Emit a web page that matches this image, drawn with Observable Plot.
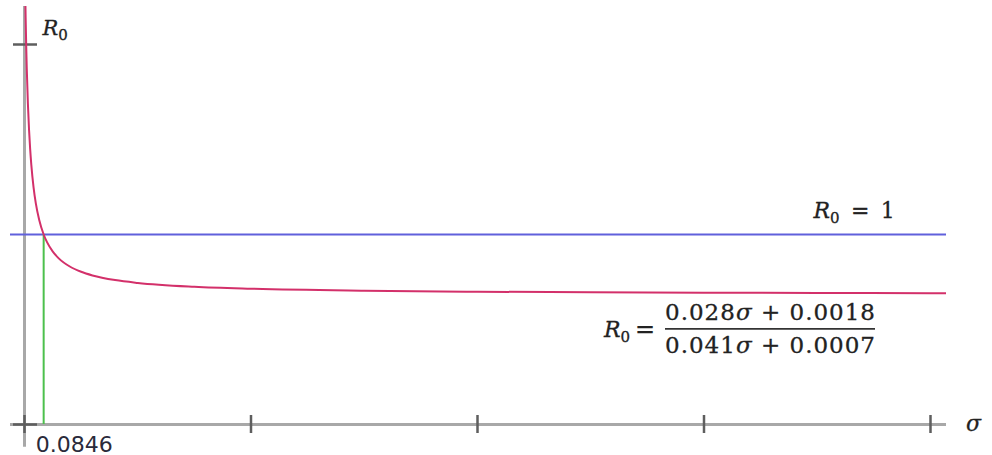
<!DOCTYPE html>
<html>
<head>
<meta charset="utf-8">
<script src="https://cdn.jsdelivr.net/npm/d3@7"></script>
<script src="https://cdn.jsdelivr.net/npm/@observablehq/plot@0.6"></script>
<style>
  html, body { margin: 0; padding: 0; background: #fff; }
  #chart svg { display: block; }
</style>
</head>
<body>
<div id="chart"></div>
<script>
// Curve R0(σ)
const sigma = [0, 0.0025, 0.005, 0.0075, 0.01, 0.015, 0.02, 0.025, 0.03, 0.04, 0.05, 0.065, 0.0846, 0.1, 0.125, 0.15, 0.2, 0.25, 0.3, 0.4, 0.5, 0.75, 1, 1.5, 2, 2.5, 3, 3.5, 4, 4.07];
const r0 = [2.5714, 2.3302, 2.1436, 1.9950, 1.8739, 1.6882, 1.5526, 1.4493, 1.3679, 1.2479, 1.1636, 1.0758, 1.0000, 0.9583, 0.9099, 0.8759, 0.8315, 0.8037, 0.7846, 0.7602, 0.7453, 0.7250, 0.7146, 0.7042, 0.6989, 0.6957, 0.6936, 0.6921, 0.6910, 0.6908];
const threshold = [1];
const crossing = [0.0846];
const xTicks = [0, 1, 2, 3, 4];
const yTicks = [0, 2];
const crossingLabel = ["0.0846"];
const numerator = "0.028σ + 0.0018";
const denominator = "0.041σ + 0.0007";

const curve = sigma.map((s, i) => ({sigma: s, r0: r0[i]}));

const axisColor = "#a8a8a8";
const tickColor = "#5e5e5e";

const chart = Plot.plot({
  width: 992,
  height: 455,
  marginLeft: 10,
  marginRight: 46,
  marginTop: 6,
  marginBottom: 31,
  style: {background: "#fff", overflow: "visible"},
  x: {domain: [0, 4], range: [24, 930], axis: null},
  y: {domain: [0, 2], range: [424, 44], axis: null},
  marks: [
    // axes lines
    Plot.ruleY([0], {stroke: axisColor, strokeWidth: 3}),
    Plot.ruleX([0], {y1: -0.12, y2: 2.2, stroke: axisColor, strokeWidth: 3}),
    // ticks
    Plot.axisX({ticks: xTicks, tickSize: 18, dy: -9, tickFormat: () => "", label: null, stroke: tickColor, strokeWidth: 2.5}),
    Plot.axisY({ticks: yTicks, tickSize: 24, dx: 27, tickFormat: () => "", label: null, stroke: tickColor, strokeWidth: 2.5}),
    // threshold R0 = 1
    Plot.ruleY(threshold, {stroke: "#6060dc", strokeWidth: 2}),
    // vertical at crossing
    Plot.ruleX(crossing, {y1: 0, y2: 1, stroke: "#4cc04c", strokeWidth: 2}),
    // curve
    Plot.line(curve, {x: "sigma", y: "r0", stroke: "#d3306a", strokeWidth: 2, curve: "monotone-x", clip: true}),
    // crossing label
    Plot.text(crossingLabel, {x: crossing, y: 0, text: d => d, dy: 20, dx: -8, textAnchor: "start", fontSize: 22, fontFamily: "DejaVu Sans", fill: "#2a2a3a"}),
    // axis names
    Plot.text(["σ"], {x: 4, y: 0, text: d => d, dx: 43, dy: -1, fontSize: 22, fontStyle: "italic", fontFamily: "DejaVu Serif", fill: "#222", stroke: "#222", strokeWidth: 0.3}),
    Plot.text(["R0"], {x: 0, y: 2, text: d => d, dx: 18, dy: -16, textAnchor: "start", fontSize: 21, fontFamily: "DejaVu Serif", fill: "#222", stroke: "#222", strokeWidth: 0.3, className: "r0-label"}),
    Plot.text(["R0 = 1"], {x: 4, y: 1, text: d => d, dx: -117, dy: -24, textAnchor: "start", fontSize: 22, fontFamily: "DejaVu Serif", fill: "#222", stroke: "#222", strokeWidth: 0.3, className: "r0-label"})
  ]
});

document.getElementById("chart").appendChild(chart);

// Style R0 labels: italic R with upright subscript 0
d3.select(chart).selectAll(".r0-label text").each(function() {
  const t = d3.select(this);
  const s = t.text();
  t.text("");
  t.append("tspan").attr("font-style", "italic").text("R");
  t.append("tspan").attr("font-size", "15").attr("dy", "5").text("0");
  const rest = s.slice(2);
  if (rest) t.append("tspan").attr("dy", "-5").text(rest.replace("=", "\u2009=\u2009"));
});

// Formula label as a fraction, placed with the chart's scales
const svg = d3.select(chart);
const xs = d3.scaleLinear().domain([0, 4]).range([24, 930]);
const ys = d3.scaleLinear().domain([0, 2]).range([424, 44]);
const fx = xs(4), fy = ys(0.69);
const g = svg.append("g").attr("font-family", "DejaVu Serif").attr("font-size", 23).attr("fill", "#222").attr("stroke", "#222").attr("stroke-width", 0.3);
const numX = fx - 265, barY = fy + 36, fracW = 210;
const lhs = g.append("text").attr("x", numX - 10).attr("y", barY + 8).attr("text-anchor", "end");
lhs.append("tspan").attr("font-style", "italic").attr("font-size", 22).text("R");
lhs.append("tspan").attr("font-size", 15).attr("dy", 5).text("0");
lhs.append("tspan").attr("dy", -5).attr("font-size", 24).text("\u2009=");
function frac(str, y) {
  const t = g.append("text").attr("x", numX).attr("y", y).attr("text-anchor", "start")
    .attr("textLength", fracW).attr("lengthAdjust", "spacing");
  const parts = str.split("σ");
  t.append("tspan").text(parts[0]);
  t.append("tspan").attr("font-style", "italic").text("σ");
  t.append("tspan").text(parts[1]);
}
frac(numerator, barY - 9);
frac(denominator, barY + 24);
g.append("line").attr("x1", numX).attr("x2", numX + fracW).attr("y1", barY).attr("y2", barY).attr("stroke", "#333").attr("stroke-width", 1.6);
</script>
</body>
</html>
